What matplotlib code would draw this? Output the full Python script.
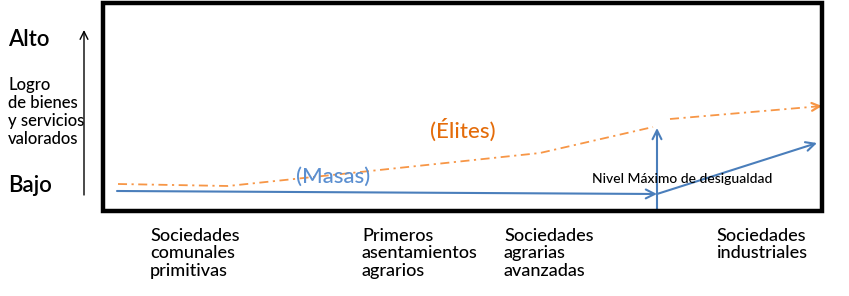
import matplotlib
matplotlib.use("Agg")
import matplotlib.pyplot as plt
from matplotlib.patches import Rectangle

plt.rcParams['font.family'] = ['Lato', 'DejaVu Sans']

# ---- data (diagram space, pixel-like units) ----
elite1_x = [118, 228, 540, 653]
elite1_y = [184, 186, 153, 127]
elite2_x = [670, 822]
elite2_y = [119, 106]
masas1_x = [117, 657]
masas1_y = [191, 194]
masas2_x = [657, 817]
masas2_y = [194, 143]
peak_x = [657, 657]
peak_y = [212, 128]

categories = ["Sociedades\ncomunales\nprimitivas",
              "Primeros\nasentamientos\nagrarios",
              "Sociedades\nagrarias\navanzadas",
              "Sociedades\nindustriales"]
category_x = [150, 362, 504, 716]

y_labels = ["Alto", "Logro\nde bienes\ny servicios\nvalorados", "Bajo"]

orange_line = "#F79646"
orange_text = "#E46C0A"
blue_line = "#4A7EBB"
blue_text = "#5B8FD0"

fig = plt.figure(figsize=(8.49, 2.96), dpi=100)
ax = fig.add_axes([0, 0, 1, 1])
ax.set_xlim(0, 849)
ax.set_ylim(296, 0)
ax.axis('off')

# frame
ax.add_patch(Rectangle((103, 3), 719, 208, fill=False, ec='black', lw=3.2, zorder=5))

# elites (dash-dot)
ls = (0, (5, 2.5, 1.2, 2.5))
ax.plot(elite1_x, elite1_y, color=orange_line, lw=1.3, linestyle=ls)
ax.plot(elite2_x, elite2_y, color=orange_line, lw=1.3, linestyle=ls)
ax.annotate('', xy=(elite2_x[-1], elite2_y[-1]),
            xytext=(elite2_x[-1] - 6, elite2_y[-1] + 6 * (elite2_y[0] - elite2_y[1]) / (elite2_x[1] - elite2_x[0])),
            arrowprops=dict(arrowstyle='->', color=orange_line, lw=1.6,
                            mutation_scale=14, shrinkA=0, shrinkB=0))

# masas
arrow_kw = dict(arrowstyle='->', color=blue_line, lw=1.5, mutation_scale=16, shrinkA=0, shrinkB=0)
ax.annotate('', xy=(masas1_x[1], masas1_y[1]), xytext=(masas1_x[0], masas1_y[0]), arrowprops=arrow_kw)
ax.annotate('', xy=(masas2_x[1], masas2_y[1]), xytext=(masas2_x[0], masas2_y[0]), arrowprops=arrow_kw)
ax.annotate('', xy=(peak_x[1], peak_y[1]), xytext=(peak_x[0], peak_y[0]), arrowprops=arrow_kw)

# labels in chart
ax.text(463, 130, "(Élites)", color=orange_text, fontsize=16, ha='center', va='center', fontweight='medium')
ax.text(333, 177, "(Masas)", color=blue_text, fontsize=16, ha='center', va='center', fontweight='medium')
ax.text(592, 179, "Nivel Máximo de desigualdad", color='black', fontsize=10, ha='left', va='center',
        fontweight='medium')

# y-axis arrow and labels
ax.annotate('', xy=(84, 30), xytext=(84, 195),
            arrowprops=dict(arrowstyle='->', color='black', lw=1.0, mutation_scale=14, shrinkA=0, shrinkB=0))
ax.text(8, 39, y_labels[0], fontsize=16, ha='left', va='center', fontweight='semibold')
ax.text(8, 112, y_labels[1], fontsize=12, ha='left', va='center', linespacing=1.15,
        multialignment='left', fontweight='medium')
ax.text(8, 186, y_labels[2], fontsize=16, ha='left', va='center', fontweight='semibold')

# categories
for cx, lab in zip(category_x, categories):
    ax.text(cx, 228, lab, fontsize=13, ha='left', va='top', linespacing=1.1,
            multialignment='left', fontweight='medium')

fig.savefig("out.png", dpi=100)
